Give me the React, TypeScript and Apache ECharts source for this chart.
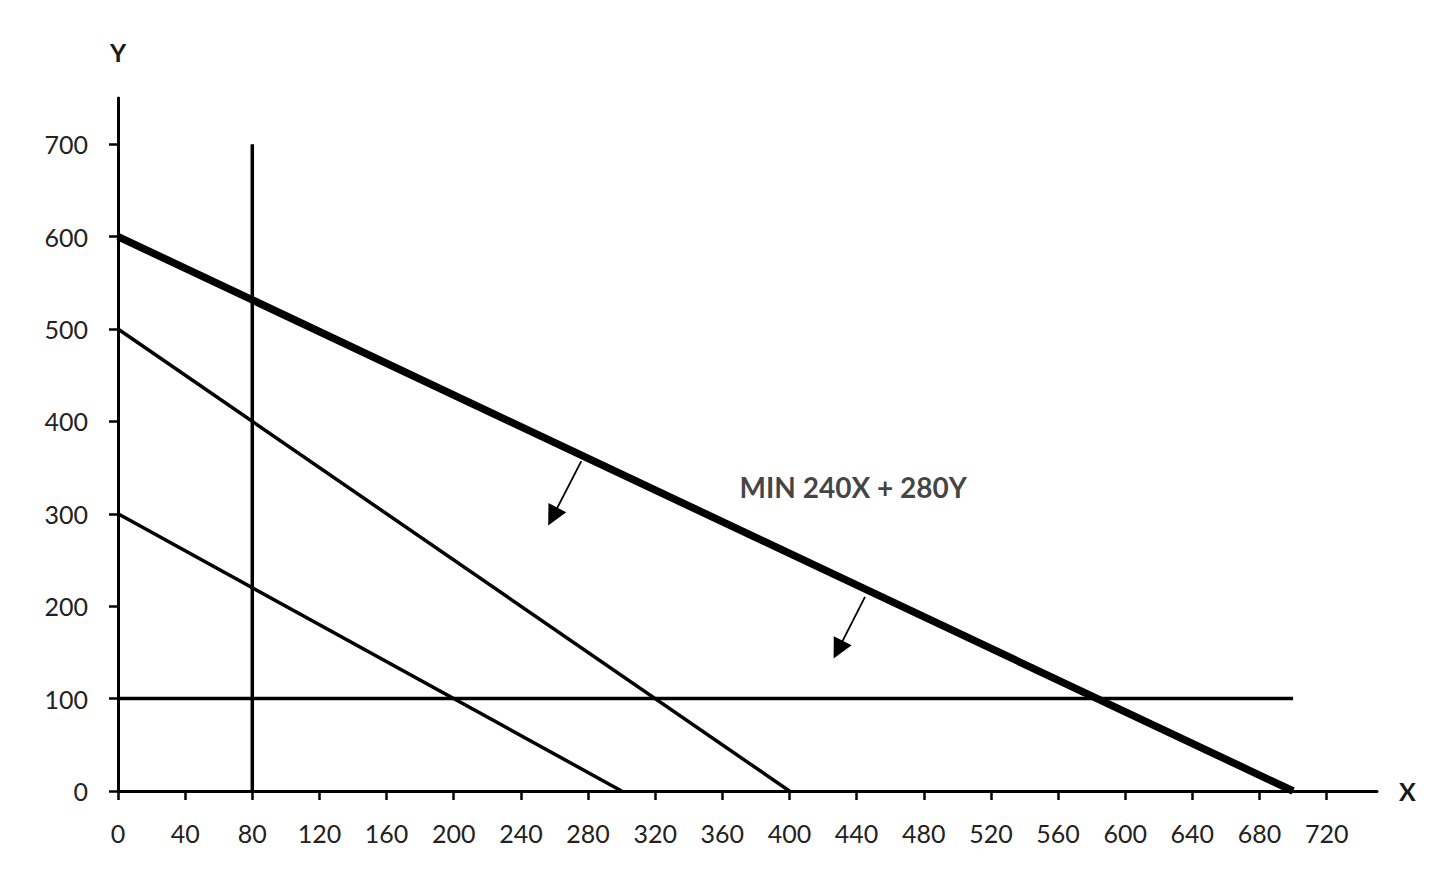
import React, { useEffect, useRef } from 'react';
import * as echarts from 'echarts';

// x/y tick values
const xTicks = [0, 40, 80, 120, 160, 200, 240, 280, 320, 360, 400, 440, 480, 520, 560, 600, 640, 680, 720];
const yTicks = [0, 100, 200, 300, 400, 500, 600, 700];

// constraint lines
const lineX80 = [[80, 0], [80, 700]];
const lineY100 = [[0, 100], [700, 100]];
const line300 = [[0, 300], [300, 0]];
const line500 = [[0, 500], [400, 0]];
// objective (iso-cost) line
const objective = [[0, 600], [700, 0]];

// arrows pointing toward lower cost
const arrows = [
  [[276, 357], [259, 297]],
  [[445, 210], [429, 153]]
];

const objectiveLabel = 'MIN 240X + 280Y';
const labelPos = [438, 329];

const FONT = 'Lato, "Open Sans", sans-serif';

const App: React.FC = () => {
  const chartRef = useRef<HTMLDivElement>(null);

  useEffect(() => {
    if (!chartRef.current) return;
    const chart = echarts.init(chartRef.current, undefined, { renderer: 'svg' });

    const thin = (data: number[][]) => ({
      type: 'line',
      data,
      symbol: 'none',
      lineStyle: { color: '#000', width: 3.5 },
      clip: false,
      silent: true
    });

    const option = {
      animation: false,
      backgroundColor: '#fff',
      grid: { left: 118, right: 73, top: 98, bottom: 79 },
      xAxis: {
        type: 'value',
        min: 0,
        max: 750,
        name: 'X',
        nameLocation: 'end',
        nameGap: 22,
        nameTextStyle: { fontFamily: FONT, fontSize: 25, fontWeight: 'bold', color: '#1a1a1a' },
        axisLine: { show: true, lineStyle: { color: '#000', width: 3 } },
        axisTick: { show: true, length: 9, lineStyle: { color: '#000', width: 2.5 }, customValues: xTicks },
        axisLabel: { fontFamily: FONT, fontSize: 25, color: '#222', margin: 29, customValues: xTicks },
        splitLine: { show: false }
      },
      yAxis: {
        type: 'value',
        min: 0,
        max: 750,
        name: 'Y',
        nameLocation: 'end',
        nameGap: 34,
        nameTextStyle: { fontFamily: FONT, fontSize: 25, fontWeight: 'bold', color: '#1a1a1a', align: 'center' },
        axisLine: { show: true, lineStyle: { color: '#000', width: 3 } },
        axisTick: { show: true, length: 9, lineStyle: { color: '#000', width: 2.5 }, customValues: yTicks },
        axisLabel: { fontFamily: FONT, fontSize: 25, color: '#222', margin: 30, customValues: yTicks },
        splitLine: { show: false }
      },
      series: [
        thin(lineX80),
        thin(lineY100),
        thin(line300),
        thin(line500),
        {
          type: 'line',
          data: objective,
          symbol: 'none',
          lineStyle: { color: '#000', width: 7.5 },
          clip: false,
          silent: true
        },
        {
          type: 'lines',
          coordinateSystem: 'cartesian2d',
          symbol: ['none', 'triangle'],
          symbolSize: [1, 20],
          lineStyle: { color: '#000', width: 1.8, opacity: 1 },
          itemStyle: { color: '#000' },
          data: arrows.map(coords => ({ coords })),
          silent: true
        },
        {
          type: 'scatter',
          data: [labelPos],
          symbolSize: 1,
          itemStyle: { color: 'transparent' },
          silent: true,
          label: {
            show: true,
            position: 'inside',
            formatter: objectiveLabel,
            fontFamily: FONT,
            fontSize: 28,
            fontWeight: 'bold',
            color: '#111',
            textBorderWidth: 0
          }
        }
      ]
    };

    chart.setOption(option as any);
    return () => {
      chart.dispose();
    };
  }, []);

  return (
    <div
      ref={chartRef}
      style={{ position: 'absolute', left: 0, top: 0, width: '1450px', height: '870px' }}
    />
  );
};

export default App;
